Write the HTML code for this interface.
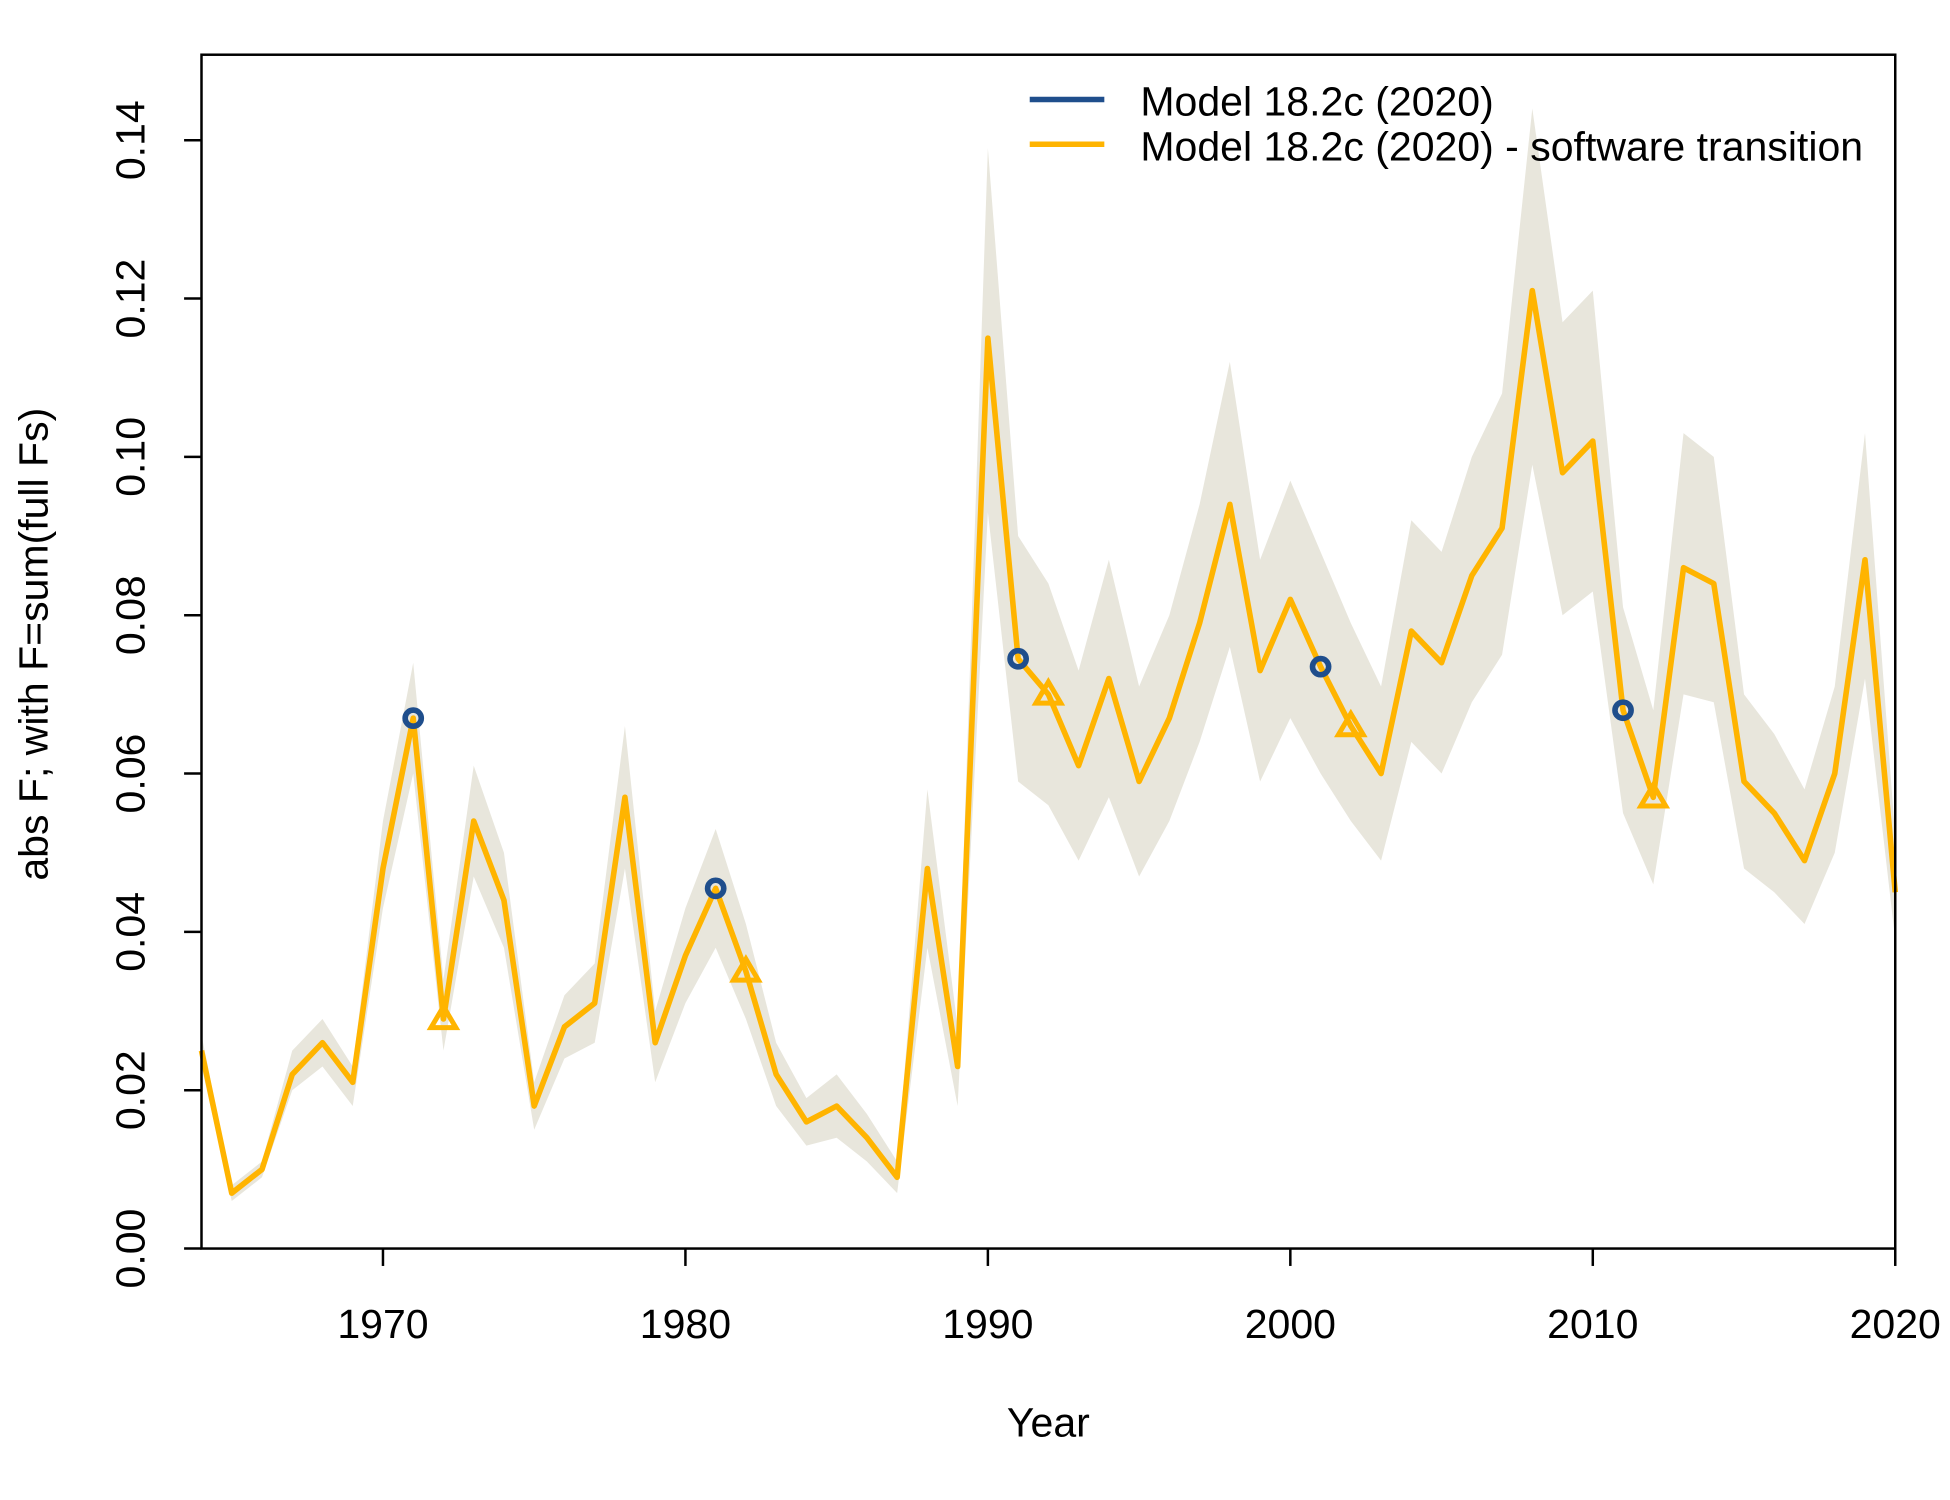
<!DOCTYPE html>
<html><head><meta charset="utf-8"><style>
html,body{margin:0;padding:0;background:#fff;}
svg{display:block;font-family:"Liberation Sans",Arial,sans-serif;}
</style></head><body>
<svg id="chart" width="1950" height="1500" viewBox="0 0 1568 1206.2" xmlns="http://www.w3.org/2000/svg">
<g id="band"></g>
<g id="series"></g>
<rect x="162" y="44" width="1362" height="960" fill="none" stroke="#000" stroke-width="2"/>
<g id="axes"></g>
<text x="843" y="1155" font-size="33" text-anchor="middle">Year</text>
<text transform="translate(38,518) rotate(-90)" font-size="33" text-anchor="middle">abs F; with F=sum(full Fs)</text>
<g>
<line x1="828" y1="80" x2="888" y2="80" stroke="#1f4e8c" stroke-width="4.5"/>
<text x="917" y="93" font-size="33">Model 18.2c (2020)</text>
<line x1="828" y1="116" x2="888" y2="116" stroke="#ffb400" stroke-width="4.5"/>
<text x="917" y="129" font-size="33">Model 18.2c (2020) - software transition</text>
</g>
</svg>
<script>
const years=[];for(let y=1964;y<=2020;y++)years.push(y);
const values=[0.025,0.007,0.010,0.022,0.026,0.021,0.048,0.067,0.029,0.054,0.044,0.018,0.028,0.031,0.057,0.026,0.037,0.0455,0.035,0.022,0.016,0.018,0.014,0.009,0.048,0.023,0.115,0.0745,0.070,0.061,0.072,0.059,0.067,0.079,0.094,0.073,0.082,0.0735,0.066,0.060,0.078,0.074,0.085,0.091,0.121,0.098,0.102,0.068,0.057,0.086,0.084,0.059,0.055,0.049,0.060,0.087,0.045];
const upper=[0.027,0.008,0.011,0.025,0.029,0.023,0.054,0.074,0.034,0.061,0.050,0.021,0.032,0.036,0.066,0.030,0.043,0.053,0.041,0.026,0.019,0.022,0.017,0.011,0.058,0.028,0.139,0.090,0.084,0.073,0.087,0.071,0.080,0.094,0.112,0.087,0.097,0.088,0.079,0.071,0.092,0.088,0.100,0.108,0.144,0.117,0.121,0.081,0.068,0.103,0.100,0.070,0.065,0.058,0.071,0.103,0.052];
const lower=[0.023,0.006,0.009,0.020,0.023,0.018,0.043,0.060,0.025,0.047,0.038,0.015,0.024,0.026,0.048,0.021,0.031,0.038,0.029,0.018,0.013,0.014,0.011,0.007,0.038,0.018,0.093,0.059,0.056,0.049,0.057,0.047,0.054,0.064,0.076,0.059,0.067,0.060,0.054,0.049,0.064,0.060,0.069,0.075,0.099,0.080,0.083,0.055,0.046,0.070,0.069,0.048,0.045,0.041,0.050,0.072,0.039];
const circleYears=[1971,1981,1991,2001,2011];
const triangleYears=[1972,1982,1992,2002,2012];
const xTicks=[1970,1980,1990,2000,2010,2020];
const yTicks=[0,0.02,0.04,0.06,0.08,0.10,0.12,0.14];
const yTickLabels=["0.00","0.02","0.04","0.06","0.08","0.10","0.12","0.14"];

const X0=162,X1=1524,Y0=1004,Y1=44,xmin=1964,xmax=2020,ymin=0,ymax=0.1508;
const sx=v=>X0+(v-xmin)/(xmax-xmin)*(X1-X0);
const sy=v=>Y0-(v-ymin)/(ymax-ymin)*(Y0-Y1);
const NS="http://www.w3.org/2000/svg";
function mk(tag,attrs,parent){const e=document.createElementNS(NS,tag);for(const k in attrs)e.setAttribute(k,attrs[k]);parent.appendChild(e);return e;}

const band=document.getElementById('band');
let d=years.map((y,i)=>(i?'L':'M')+sx(y)+','+sy(upper[i])).join(' ');
for(let i=years.length-1;i>=0;i--)d+=' L'+sx(years[i])+','+sy(lower[i]);
const bp=mk('path',{d:d+' Z',fill:'#e8e6dc',stroke:'none'},band);



const ser=document.getElementById('series');
const pts=years.map((y,i)=>sx(y)+','+sy(values[i])).join(' ');
const pl=mk('polyline',{points:pts,fill:'none',stroke:'#ffb400','stroke-width':4.5,'stroke-linejoin':'round'},ser);


circleYears.forEach(y=>{const i=years.indexOf(y);
const c=mk('circle',{cx:sx(y),cy:sy(values[i]),r:6.5,fill:'none',stroke:'#1f4e8c','stroke-width':4.5},ser);

});
triangleYears.forEach(y=>{const i=years.indexOf(y);const cx=sx(y),cy=sy(values[i]);
const t=mk('polygon',{points:`${cx-10},${cy+7} ${cx+10},${cy+7} ${cx},${cy-10}`,fill:'none',stroke:'#ffb400','stroke-width':4},ser);

});

const ax=document.getElementById('axes');
xTicks.forEach(v=>{
const l=mk('line',{x1:sx(v),x2:sx(v),y1:Y0,y2:Y0+14,stroke:'#000','stroke-width':2},ax);


const t=mk('text',{x:sx(v),y:1076,'font-size':33,'text-anchor':'middle'},ax);t.textContent=v;

});
yTicks.forEach((v,i)=>{
const l=mk('line',{x1:X0-14,x2:X0,y1:sy(v),y2:sy(v),stroke:'#000','stroke-width':2},ax);


const t=mk('text',{transform:`translate(116,${sy(v)}) rotate(-90)`,'font-size':33,'text-anchor':'middle'},ax);t.textContent=yTickLabels[i];

});
</script>
</body></html>
